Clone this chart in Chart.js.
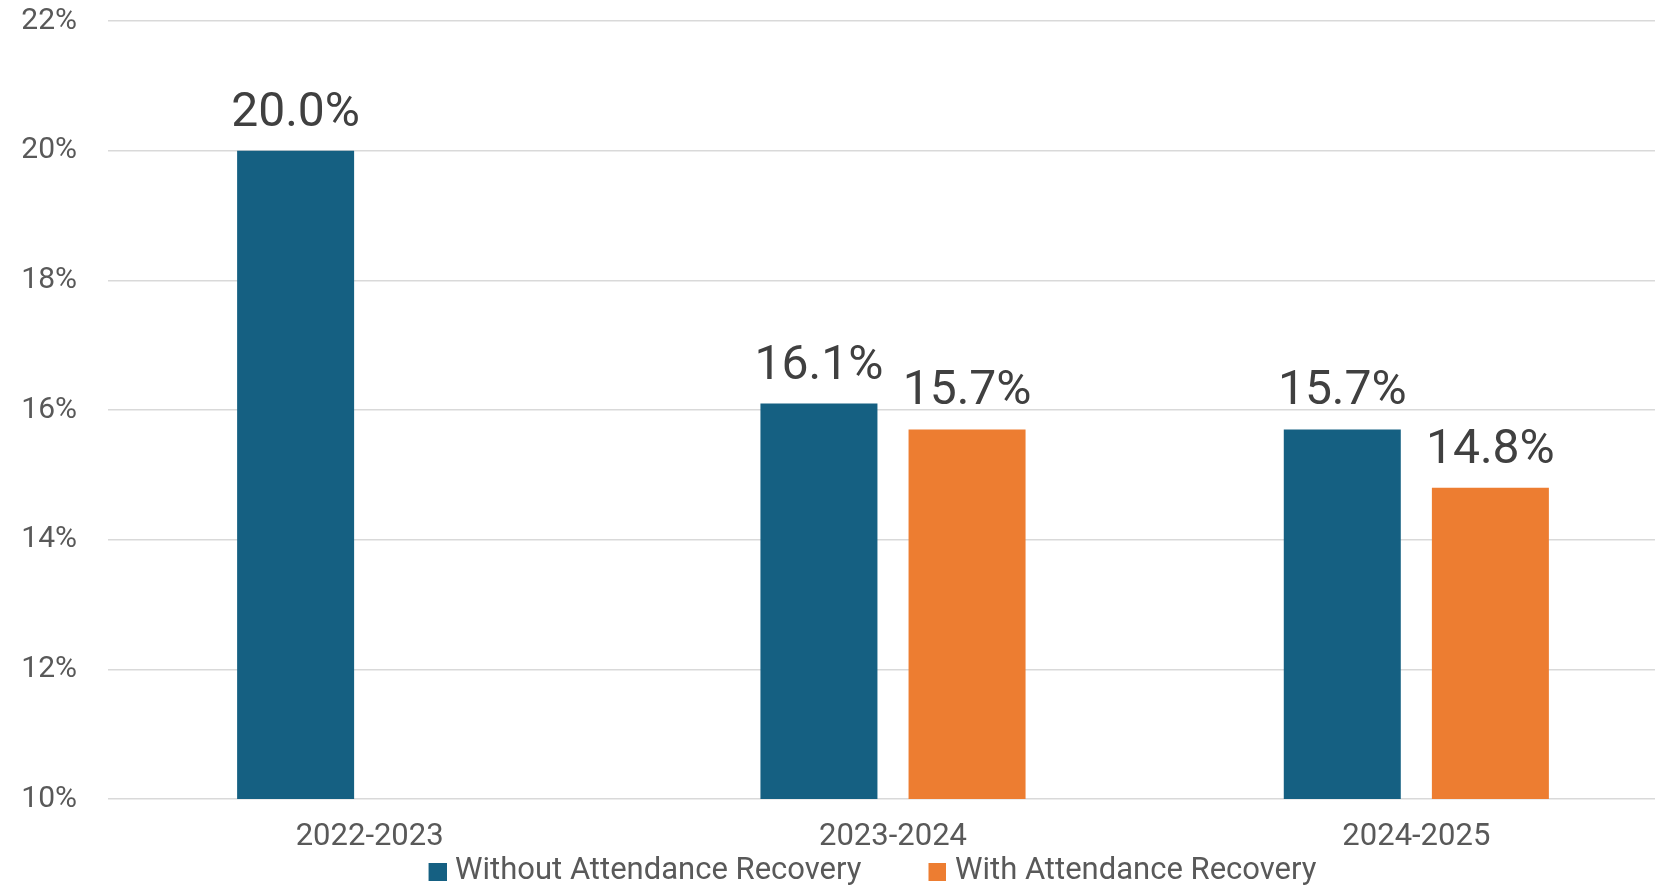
<!DOCTYPE html>
<html><head><meta charset="utf-8">
<script src="https://cdn.jsdelivr.net/npm/chart.js@4.4.1/dist/chart.umd.min.js"></script>
<style>html,body{margin:0;padding:0;overflow:hidden;background:#fff;width:1655px;height:887px}canvas{display:block}</style>
</head><body><canvas id="c" width="1678" height="887"></canvas>
<script>
const categories = ['2022-2023', '2023-2024', '2024-2025'];
const seriesNames = ['Without Attendance Recovery', 'With Attendance Recovery'];
const withoutRecovery = [20.0, 16.1, 15.7];
const withRecovery = [null, 15.7, 14.8];
const yTickValues = [10, 12, 14, 16, 18, 20, 22];

const COLORS = ['#156082', '#ED7D31'];
const FONT = 'Roboto';

function legendSwatch(color) {
  const c = document.createElement('canvas');
  c.width = 92; c.height = 18;
  const g = c.getContext('2d');
  g.fillStyle = color;
  g.fillRect(74, 0, 18, 18);
  return c;
}
const swatches = COLORS.map(legendSwatch);

const valueLabels = {
  id: 'valueLabels',
  afterDatasetsDraw(chart) {
    const ctx = chart.ctx;
    ctx.save();
    ctx.font = '48px ' + FONT;
    ctx.fillStyle = '#404040';
    ctx.textAlign = 'center';
    ctx.textBaseline = 'alphabetic';
    chart.data.datasets.forEach((ds, i) => {
      const meta = chart.getDatasetMeta(i);
      meta.data.forEach((bar, j) => {
        const v = ds.data[j];
        if (v == null) return;
        ctx.fillText(v.toFixed(1) + '%', bar.x, bar.y - 25);
      });
    });
    ctx.restore();
  }
};

new Chart(document.getElementById('c'), {
  type: 'bar',
  data: {
    labels: categories,
    datasets: [
      { label: seriesNames[0], data: withoutRecovery, backgroundColor: COLORS[0], borderWidth: 0,
        categoryPercentage: 0.566, barPercentage: 0.79 },
      { label: seriesNames[1], data: withRecovery, backgroundColor: COLORS[1], borderWidth: 0,
        categoryPercentage: 0.566, barPercentage: 0.79 }
    ]
  },
  options: {
    responsive: false,
    animation: false,
    devicePixelRatio: 1,
    layout: { padding: { top: 21, left: 0, right: 0, bottom: -10 } },
    plugins: {
      tooltip: { enabled: false },
      legend: {
        position: 'bottom',
        labels: {
          usePointStyle: true,
          pointStyleWidth: 78,
          padding: 0,
          color: '#595959',
          font: { family: FONT, size: 31 },
          generateLabels: chart => chart.data.datasets.map((ds, i) => ({
            text: ds.label,
            fillStyle: ds.backgroundColor,
            strokeStyle: ds.backgroundColor,
            lineWidth: 0,
            pointStyle: swatches[i],
            hidden: !chart.isDatasetVisible(i),
            datasetIndex: i,
            fontColor: '#595959'
          }))
        }
      }
    },
    scales: {
      x: {
        grid: { display: false },
        border: { display: false },
        ticks: { color: '#595959', font: { family: FONT, size: 31 }, padding: 12 },
        afterFit: s => { s.height = 57; }
      },
      y: {
        min: 10, max: 22,
        afterBuildTicks: s => { s.ticks = yTickValues.map(v => ({ value: v })); },
        grid: { color: '#D9D9D9', lineWidth: 1.5, drawTicks: false },
        border: { display: false },
        ticks: { padding: 31, color: '#595959', font: { family: FONT, size: 30 }, callback: v => v + '%' },
        afterFit: s => { s.width = 108; s.paddingTop = 16; s.paddingBottom = 16; }
      }
    }
  },
  plugins: [valueLabels]
});
</script></body></html>
